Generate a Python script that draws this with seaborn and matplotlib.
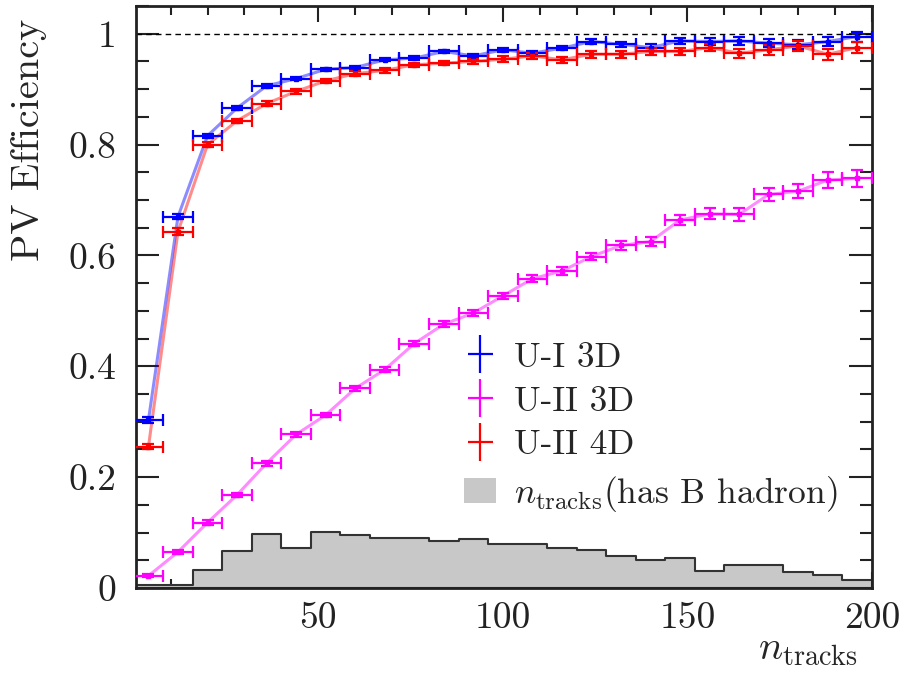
import numpy as np
import pandas as pd
import seaborn as sns
import matplotlib.pyplot as plt
from matplotlib.lines import Line2D
from matplotlib.patches import Patch
from matplotlib.legend_handler import HandlerTuple
from matplotlib.ticker import MultipleLocator

# bins of n_tracks (width 8, 0..200)
bin_edges = list(range(0, 201, 8))
bin_centers = [e + 4 for e in bin_edges[:-1]]

# PV efficiency per bin
eff_ui_3d = [0.303, 0.670, 0.816, 0.866, 0.906, 0.919, 0.936, 0.939, 0.953, 0.956,
             0.968, 0.960, 0.971, 0.965, 0.974, 0.986, 0.981, 0.975, 0.987, 0.986,
             0.987, 0.983, 0.980, 0.986, 0.995]
eff_uii_3d = [0.022, 0.065, 0.118, 0.168, 0.225, 0.277, 0.312, 0.360, 0.394, 0.441,
              0.476, 0.496, 0.527, 0.558, 0.572, 0.598, 0.618, 0.625, 0.664, 0.675,
              0.674, 0.710, 0.716, 0.736, 0.739]
eff_uii_4d = [0.255, 0.643, 0.800, 0.843, 0.874, 0.896, 0.915, 0.928, 0.934, 0.944,
              0.947, 0.950, 0.954, 0.960, 0.953, 0.963, 0.963, 0.968, 0.968, 0.975,
              0.965, 0.971, 0.978, 0.963, 0.975]

# statistical errors
err_ui_3d = [0.005, 0.005, 0.004, 0.003, 0.003, 0.003, 0.003, 0.003, 0.003, 0.003,
             0.003, 0.004, 0.004, 0.004, 0.004, 0.005, 0.005, 0.006, 0.006, 0.006,
             0.007, 0.007, 0.008, 0.009, 0.009]
err_uii_3d = [0.003, 0.004, 0.004, 0.004, 0.004, 0.004, 0.004, 0.005, 0.005, 0.005,
              0.005, 0.006, 0.006, 0.006, 0.007, 0.007, 0.008, 0.008, 0.009, 0.010,
              0.011, 0.012, 0.013, 0.015, 0.016]
err_uii_4d = [0.005, 0.006, 0.005, 0.004, 0.004, 0.004, 0.004, 0.004, 0.004, 0.004,
              0.004, 0.004, 0.005, 0.005, 0.005, 0.006, 0.006, 0.007, 0.007, 0.007,
              0.008, 0.009, 0.009, 0.010, 0.010]

# normalised n_tracks distribution for events with a B hadron
hist_b = [0.006, 0.006, 0.032, 0.067, 0.098, 0.072, 0.101, 0.096, 0.091, 0.091,
          0.084, 0.088, 0.080, 0.080, 0.073, 0.069, 0.057, 0.050, 0.054, 0.031,
          0.041, 0.041, 0.029, 0.023, 0.014]

df = pd.DataFrame({"ntracks": bin_centers, "U-I 3D": eff_ui_3d,
                   "U-II 3D": eff_uii_3d, "U-II 4D": eff_uii_4d, "hist": hist_b})

sns.set_theme(style="ticks")
plt.rcParams["font.family"] = ["cmr10", "DejaVu Serif"]
plt.rcParams["mathtext.fontset"] = "cm"
plt.rcParams["axes.unicode_minus"] = False
plt.rcParams["axes.formatter.use_mathtext"] = True

fig = plt.figure(figsize=(9.06, 6.93), dpi=100)
ax = fig.add_axes([0.150, 0.1515, 0.8125, 0.8398])

sns.histplot(data=df, x="ntracks", weights="hist", bins=bin_edges, element="step",
             fill=True, color="#c8c8c8", edgecolor="#333333", linewidth=1.5,
             alpha=1.0, ax=ax, zorder=1)

series = [("U-I 3D", err_ui_3d, "#0000ff"),
          ("U-II 3D", err_uii_3d, "#ff00ff"),
          ("U-II 4D", err_uii_4d, "#ff0000")]
for name, err, col in series:
    sns.lineplot(data=df, x="ntracks", y=name, color=col, alpha=0.45,
                 linewidth=2.2, ax=ax, zorder=3)
    ax.errorbar(df["ntracks"], df[name], xerr=4, yerr=err, fmt="none",
                ecolor=col, elinewidth=1.6, capsize=4, capthick=1.6, zorder=4)
    ax.plot(df["ntracks"], df[name], ls="none", marker="s", ms=3.5,
            color=col, zorder=5)

ax.axhline(1.0, color="black", ls=(0, (4, 3)), lw=1.0, zorder=2)

ax.set_xlim(0.6, 200)
ax.set_ylim(0, 1.05)
ax.xaxis.set_major_locator(MultipleLocator(50))
ax.xaxis.set_minor_locator(MultipleLocator(10))
ax.yaxis.set_major_locator(MultipleLocator(0.2))
ax.yaxis.set_minor_locator(MultipleLocator(0.05))
ax.set_yticks([0, 0.2, 0.4, 0.6, 0.8, 1.0])
ax.set_yticklabels(["0", "0.2", "0.4", "0.6", "0.8", "1"])
ax.set_xticks([50, 100, 150, 200])
ax.set_xticklabels(["50", "100", "150", "200"])

ax.tick_params(axis="both", which="both", direction="in", top=True, right=True,
               width=1.5, labelsize=27, colors="#222222")
ax.tick_params(axis="x", which="major", length=11.5, pad=10)
ax.tick_params(axis="x", which="minor", length=6.5)
ax.tick_params(axis="y", which="major", length=16.5, pad=14)
ax.tick_params(axis="y", which="minor", length=9)
for sp in ax.spines.values():
    sp.set_linewidth(2.0)
    sp.set_color("#222222")

ax.set_xlabel(r"$n_{\mathrm{tracks}}$", fontsize=29, loc="right")
ax.set_ylabel("PV Efficiency", fontsize=29, loc="top")
ax.xaxis.set_label_coords(0.98, -0.075)
ax.yaxis.set_label_coords(-0.121, 0.979)

handles = []
for name, err, col in series:
    v = Line2D([], [], ls="none", marker="|", ms=28, mew=1.6, color=col)
    h = Line2D([], [], ls="none", marker="_", ms=18, mew=1.6, color=col)
    handles.append((v, h))
handles.append(Patch(facecolor="#c8c8c8", edgecolor="none"))
labels = ["U-I 3D", "U-II 3D", "U-II 4D", r"$n_{\mathrm{tracks}}$(has B hadron)"]
ax.legend(handles, labels, handler_map={tuple: HandlerTuple(ndivide=1, pad=0)},
          loc="upper left", bbox_to_anchor=(0.427, 0.447), borderaxespad=0,
          frameon=False, fontsize=25.5, labelspacing=0.34, handlelength=0.9,
          handletextpad=0.5)

plt.savefig("out.png", dpi=100)
